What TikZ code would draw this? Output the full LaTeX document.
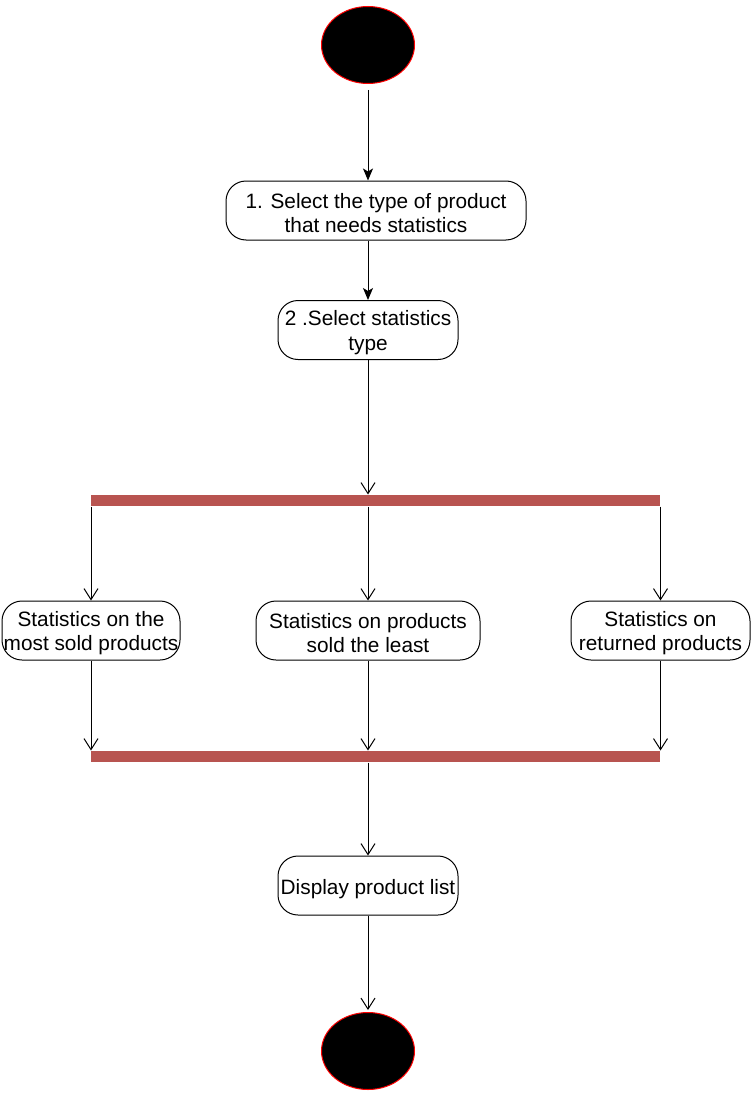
\documentclass[tikz,border=0pt]{standalone}
\usepackage{xcolor}
\usepackage{fontspec}
\setmainfont{Liberation Sans}
\usepackage{tikz}
\usetikzlibrary{shapes.geometric,arrows.meta}
\definecolor{barred}{HTML}{B85450}
\newcommand{\actgap}{\rule{0pt}{20pt}}

\begin{document}
\begin{tikzpicture}[x=1pt,y=-1pt,line width=1pt,
    every node/.style={font=\fontsize{20.8}{24.5}\selectfont},
    dot/.style={ellipse,draw=red,fill=black,minimum width=93pt,minimum height=77pt},
    act/.style={draw=black,rounded corners=20pt,align=center,inner sep=0pt,
      minimum height=59pt,execute at begin node={\rule{0pt}{23pt}}},
    bar/.style={fill=barred,inner sep=0pt,minimum width=569pt,minimum height=11pt},
    solid arrow/.style={-{Stealth[length=12pt,width=10pt,inset=3pt]}},
    open arrow/.style={-{Straight Barb[length=11pt,width=14pt]}}]
  \useasboundingbox (0,0) rectangle (752,1097);

  \node[dot] (start) at (368,45) {};
  \node[act,minimum width=300pt] (sel) at (376,210.5) {\actgap 1. Select the type of product\\that needs statistics};
  \node[act,minimum width=180pt] (kind) at (368,330) {\actgap 2 .Select statistics\\type};
  \node[bar] (fork) at (375.5,500.5) {};
  \node[act,minimum width=178pt] (most) at (91,630.5) {\actgap Statistics on the\\most sold products};
  \node[act,minimum width=224pt] (least) at (368,630.5) {\actgap Statistics on products\\sold the least};
  \node[act,minimum width=179pt] (ret) at (660.5,630.5) {\actgap Statistics on\\returned products};
  \node[bar] (join) at (375.5,756.5) {};
  \node[act,minimum width=180pt] (show) at (368,885.5) {Display product list};
  \node[dot] (stop) at (368,1051) {};

  \draw[solid arrow,shorten <=6pt] (start) -- (sel.north -| start.south);
  \draw[solid arrow] (sel.south -| kind.north) -- (kind);
  \draw[open arrow] (kind) -- (kind.south |- fork.north);
  \draw[open arrow] (fork.south -| most.north) -- (most);
  \draw[open arrow] (fork.south -| least.north) -- (least);
  \draw[open arrow] (fork.south -| ret.north) -- (ret);
  \draw[open arrow] (most) -- (most.south |- join.north);
  \draw[open arrow] (least) -- (least.south |- join.north);
  \draw[open arrow] (ret) -- (ret.south |- join.north);
  \draw[open arrow] (join.south -| show.north) -- (show);
  \draw[open arrow,shorten >=2pt] (show) -- (stop);
\end{tikzpicture}
\end{document}
